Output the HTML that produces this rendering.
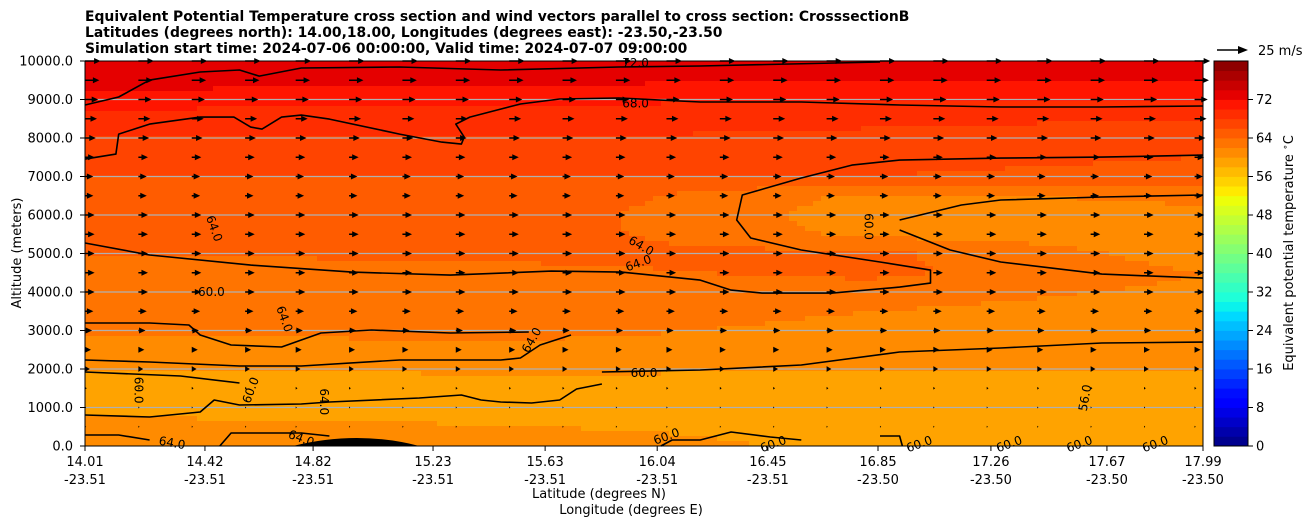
<!DOCTYPE html>
<html><head><meta charset="utf-8"><style>
body{margin:0;background:#fff;}
svg{display:block;font-family:"DejaVu Sans","Liberation Sans",sans-serif;}
</style></head><body>
<svg id="chart" width="1308" height="526">
<g id="titles" font-weight="bold" font-size="13.9">
<text x="85" y="21">Equivalent Potential Temperature cross section and wind vectors parallel to cross section: CrosssectionB</text>
<text x="85" y="37">Latitudes (degrees north): 14.00,18.00, Longitudes (degrees east): -23.50,-23.50</text>
<text x="85" y="53">Simulation start time: 2024-07-06 00:00:00, Valid time: 2024-07-07 09:00:00</text>
</g>
<g id="field"></g>
<g id="grid"></g>
<g id="contours" fill="none" stroke="#000" stroke-width="1.6"></g>
<g id="clabels" font-size="12"></g>
<g id="vectors"></g>
<rect x="85" y="61" width="1118" height="385" fill="none" stroke="#000" stroke-width="1"/>
<g id="yaxis" font-size="13"></g>
<g id="xaxis" font-size="13"></g>
<text x="21" y="253" font-size="13" text-anchor="middle" transform="rotate(-90 21 253)">Altitude (meters)</text>
<text x="599" y="498" font-size="13" text-anchor="middle">Latitude (degrees N)</text>
<text x="631" y="514" font-size="13" text-anchor="middle">Longitude (degrees E)</text>
<g id="colorbar" font-size="13"></g>
<text x="1293" y="253" font-size="13" text-anchor="middle" transform="rotate(-90 1293 253)">Equivalent potential temperature <tspan font-size="9" dy="-5">∘</tspan><tspan dy="5">C</tspan></text>
<g>
<line x1="1217" y1="50" x2="1240" y2="50" stroke="#000" stroke-width="1.6"/>
<polygon points="1248,50 1238,46 1238,54" fill="#000"/>
<text x="1258" y="55" font-size="13">25 m/s</text>
</g>
</svg>
<script>
const altitudes=[0,500,1000,1500,2000,2500,3000,3500,4000,4500,5000,5500,6000,6500,7000,7500,8000,8500,9000,9500,10000];
const stationLats=[14.01,15.6,16.8,17.99];
const tempLeft=[62,61,59,58,60,61,62.5,63,63,63,64,65,65,65.5,66,67,68,69,71,73,74];
const tempMidA=[62,60,59,59,60.5,61.5,62.5,63,63,63.5,64.5,65,65,65.5,66,67,68,69,70.5,72.5,73.5];
const tempMidB=[59,59,58.5,59,60,61,61.5,62,63,64.5,64.5,61.5,61,61.5,66,67,67.5,68.5,70,72,73];
const tempRight=[59,58,58,58.5,60,60.5,61,61,61.5,62,61,61,61.5,62.5,65,66,67,68,70,72,73];
const windSpeed=[0,1,1,1.5,4,5,6,7,8,8,8,8,8,7,7,8,9,10,11,12,13];
const vectorLats=[14.01,14.2,14.39,14.58,14.76,14.95,15.14,15.33,15.52,15.71,15.9,16.08,16.27,16.46,16.65,16.84,17.03,17.22,17.4,17.59,17.78,17.96];
const xTickLats=[14.01,14.437,14.822,15.249,15.648,16.047,16.441,16.833,17.235,17.648,17.99];
const xTickLat=["14.01","14.42","14.82","15.23","15.63","16.04","16.45","16.85","17.26","17.67","17.99"];
const xTickLon=["-23.51","-23.51","-23.51","-23.51","-23.51","-23.51","-23.51","-23.50","-23.50","-23.50","-23.50"];
const yTicks=[0,1000,2000,3000,4000,5000,6000,7000,8000,9000,10000];
const cbTicks=[0,8,16,24,32,40,48,56,64,72];
const contour72=[[14.01,8856],[14.13,9064],[14.24,9505],[14.42,9713],[14.56,9765],[14.63,9609],[14.78,9817],[15.13,9843],[15.49,9765],[15.91,9843],[16.2,9869],[16.84,9973]];
const contour68=[[14.01,7452],[14.12,7582],[14.13,8102],[14.24,8362],[14.42,8544],[14.54,8544],[14.6,8284],[14.64,8232],[14.71,8544],[14.78,8596],[14.88,8492],[15.13,8102],[15.28,7894],[15.35,7842],[15.36,8024],[15.33,8362],[15.38,8544],[15.56,8882],[15.7,9012],[15.91,9038],[16.2,8934],[16.56,8934],[16.91,8856],[17.27,8804],[17.63,8804],[17.99,8830]];
const contour64a=[[14.01,5272],[14.24,4960],[14.6,4700],[14.96,4518],[15.31,4440],[15.67,4544],[15.92,4518],[16.2,4310],[16.31,4050],[16.42,3972],[16.67,3972],[16.91,4128],[17.02,4232],[17.02,4570],[16.84,4778],[16.56,5090],[16.38,5402],[16.33,5869],[16.35,6519],[16.56,6960],[16.74,7296],[16.91,7426],[17.27,7478],[17.63,7504],[17.99,7556]];
const contour60a=[[16.91,5869],[17.13,6259],[17.27,6389],[17.63,6467],[17.99,6519]];
const contour60b=[[16.91,5611],[17.09,5090],[17.27,4778],[17.63,4466],[17.99,4362]];
const contour60c=[[14.01,3194],[14.24,3194],[14.38,3142],[14.42,2882],[14.53,2623],[14.71,2571],[14.78,2752],[14.85,2934],[15.03,3012],[15.31,2934],[15.59,2960]];
const contour60d=[[14.01,2233],[14.24,2182],[14.56,2078],[14.78,2078],[15.13,2234],[15.49,2234],[15.56,2285],[15.63,2623],[15.74,2882]];
const contour60e=[[15.85,1922],[16.2,1974],[16.56,2104],[16.91,2441],[17.09,2493],[17.27,2545],[17.63,2675],[17.99,2700]];
const contour60f=[[14.01,1922],[14.35,1818],[14.56,1636]];
const contour56a=[[14.01,805],[14.24,753],[14.42,883],[14.47,1195],[14.56,1065],[14.78,1091],[14.88,1143],[15.2,1247],[15.35,1325],[15.42,1195],[15.49,1143],[15.6,1117],[15.7,1195],[15.76,1480],[15.85,1610]];
const contour60g=[[14.01,286],[14.13,286],[14.24,156]];
const contour60h=[[14.49,0],[14.53,338],[14.78,338],[14.88,260]];
const contour60i=[[16.06,0],[16.1,156],[16.2,156],[16.31,364],[16.45,234],[16.56,156]];
const contour60j=[[16.84,260],[16.91,260],[16.92,0]];
const contourSets=[contour72,contour68,contour64a,contour60a,contour60b,contour60c,contour60d,contour60e,contour60f,contour56a,contour60g,contour60h,contour60i,contour60j];
const labelTexts=["72.0","68.0","64.0","64.0","64.0","60.0","64.0","64.0","60.0","60.0","60.0","60.0","60.0","60.0","60.0","60.0","60.0","64.0","64.0","64.0","56.0","60.0"];
const labelPos=[[15.97,9950],[15.97,8900],[14.47,5650],[15.99,5200],[15.98,4750],[14.46,4000],[14.72,3300],[15.6,2750],[16.0,1900],[16.08,250],[16.46,50],[16.98,50],[17.3,50],[17.55,50],[17.82,50],[16.8,5700],[14.6,1450],[14.86,1150],[14.32,80],[14.78,200],[17.57,1250],[14.2,1450]];
const labelRot=[0,0,70,30,-20,0,70,-60,0,-20,-20,-20,-20,-20,-20,90,-70,90,10,20,-80,90];

const NS="http://www.w3.org/2000/svg";
const X0=85,X1=1203,Y0=446,Y1=61,LAT0=14.01,LAT1=17.99;
function xs(lat){return X0+(lat-LAT0)/(LAT1-LAT0)*(X1-X0);}
function ys(a){return Y0-(a/10000)*(Y0-Y1);}
function mk(tag,attrs,parent){const e=document.createElementNS(NS,tag);for(const k in attrs)e.setAttribute(k,attrs[k]);parent.appendChild(e);return e;}
function seg(t,pts){for(let i=0;i<pts.length-1;i++){const a=pts[i],b=pts[i+1];if(t<=b[0]){return a[1]+(b[1]-a[1])*(t-a[0])/(b[0]-a[0]);}}return pts[pts.length-1][1];}
function jet(v){const t=Math.max(0,Math.min(1,v/80));
 const r=seg(t,[[0,0],[0.35,0],[0.66,1],[0.89,1],[1,0.5]]);
 const g=seg(t,[[0,0],[0.125,0],[0.375,1],[0.64,1],[0.91,0],[1,0]]);
 const b=seg(t,[[0,0.5],[0.11,1],[0.34,1],[0.65,0],[1,0]]);
 const c=x=>Math.round(255*x);return `rgb(${c(r)},${c(g)},${c(b)})`;}
function levelColor(T){const lv=Math.floor(T/2)*2+1;return jet(lv);}
const profiles=[tempLeft,tempMidA,tempMidB,tempRight];
function temp(lat,alt){
 let i=0;while(i<stationLats.length-2&&lat>stationLats[i+1])i++;
 const fx=Math.max(0,Math.min(1,(lat-stationLats[i])/(stationLats[i+1]-stationLats[i])));
 let j=Math.min(altitudes.length-2,Math.floor(alt/500));const fy=(alt-altitudes[j])/500;
 const p=profiles[i],q=profiles[i+1];
 const a=p[j]*(1-fy)+p[j+1]*fy,b=q[j]*(1-fy)+q[j+1]*fy;return a*(1-fx)+b*fx;}
const field=document.getElementById('field');
const cw=8,ch=5;
for(let x=X0;x<X1;x+=cw){for(let y=Y1;y<Y0;y+=ch){
 const lat=LAT0+((x+cw/2)-X0)/(X1-X0)*(LAT1-LAT0);const alt=(Y0-(y+ch/2))/(Y0-Y1)*10000;
 const r=mk('rect',{x:x,y:y,width:Math.min(cw,X1-x)+0.5,height:Math.min(ch,Y0-y)+0.5,fill:levelColor(temp(lat,alt))},field);
 
 }}
const blob=mk('path',{d:`M${xs(14.75)},446 Q${xs(14.98)},430 ${xs(15.2)},446 Z`,fill:'#000'},field);


const grid=document.getElementById('grid'),ya=document.getElementById('yaxis');
yTicks.forEach(v=>{const y=ys(v);
 if(v>0&&v<10000){const g=mk('line',{x1:X0,x2:X1,y1:y,y2:y,stroke:'#b0b0b0','stroke-width':1.2},grid);
 
 }
 mk('line',{x1:X0-5,x2:X0,y1:y,y2:y,stroke:'#000'},ya);
 const t=mk('text',{x:X0-12,y:y+4.5,'text-anchor':'end'},ya);t.textContent=v.toFixed(1);
 
 });
const xa=document.getElementById('xaxis');
xTickLats.forEach((lat,i)=>{const x=xs(lat);
 mk('line',{x1:x,x2:x,y1:Y0,y2:Y0+5,stroke:'#000'},xa);
 const t=mk('text',{x:x,y:466,'text-anchor':'middle'},xa);t.textContent=xTickLat[i];
 
 
 const t2=mk('text',{x:x,y:484,'text-anchor':'middle'},xa);t2.textContent=xTickLon[i];
 
 });
const cg=document.getElementById('contours');
contourSets.forEach(pts=>{const p=mk('polyline',{points:pts.map(q=>xs(q[0]).toFixed(1)+','+ys(q[1]).toFixed(1)).join(' '),'stroke-linejoin':'round'},cg);
 
 });
const lg=document.getElementById('clabels');
labelTexts.forEach((s,i)=>{const x=xs(labelPos[i][0]),y=ys(labelPos[i][1]);
 const t=mk('text',{x:x,y:y+4,'text-anchor':'middle',transform:`rotate(${labelRot[i]} ${x} ${y})`},lg);t.textContent=s;
 
 });
const vg=document.getElementById('vectors');
vectorLats.forEach(lat=>{altitudes.forEach((a,j)=>{const s=windSpeed[j];if(s<=0||a<500)return;
 const x=xs(lat),y=ys(a),L=s*1.2,hl=Math.min(L,6.5),hw=2.6*Math.min(1,L/5)+0.4;
 const d=`M${x},${y-0.7}L${x+L-hl},${y-0.7}L${x+L-hl},${y-hw}L${x+L},${y}L${x+L-hl},${y+hw}L${x+L-hl},${y+0.7}L${x},${y+0.7}Z`;
 const p=mk('path',{d:d,fill:'#000'},vg);
 
 });});
const cb=document.getElementById('colorbar');
const CB0=446,CB1=61;
for(let v=0;v<80;v+=2){const y0=CB0-(v+2)/80*(CB0-CB1),h=(CB0-CB1)*2/80;
 const r=mk('rect',{x:1214,y:y0,width:34,height:h+0.4,fill:jet(v+1)},cb);
 
 }
mk('rect',{x:1214,y:CB1,width:34,height:CB0-CB1,fill:'none',stroke:'#000'},cb);
cbTicks.forEach(v=>{const y=CB0-v/80*(CB0-CB1);mk('line',{x1:1248,x2:1253,y1:y,y2:y,stroke:'#000'},cb);
 const t=mk('text',{x:1256,y:y+4.5},cb);t.textContent=v;
 
 });
</script>
</body></html>
